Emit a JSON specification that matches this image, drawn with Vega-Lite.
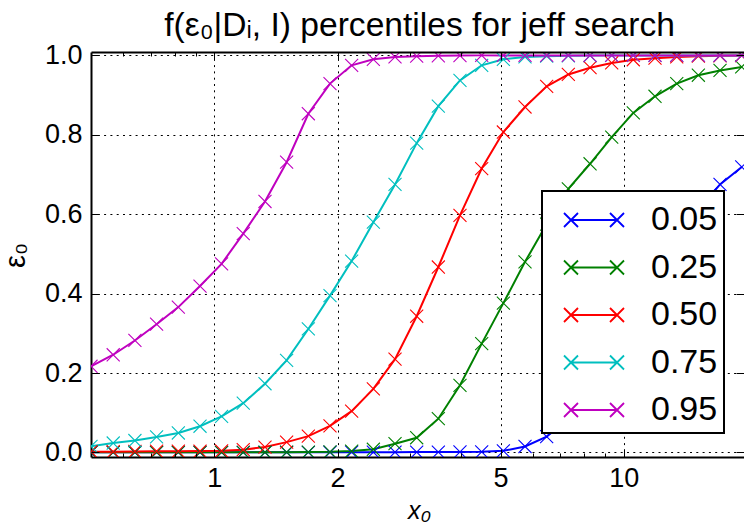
{
  "$schema": "https://vega.github.io/schema/vega-lite/v6.json",
  "width": 653,
  "height": 405,
  "autosize": {"type": "none"},
  "padding": {"left": 91, "top": 52, "right": 0, "bottom": 66},
  "background": "white",
  "config": {"view": {"stroke": null}, "font": "Liberation Sans"},
  "datasets": {
    "pct": [
      {"p":"0.05","x":0.5,"v":0.0002},{"p":"0.05","x":0.5665,"v":0.0002},{"p":"0.05","x":0.64,"v":0.0002},{"p":"0.05","x":0.723,"v":0.0002},{"p":"0.05","x":0.817,"v":0.0002},{"p":"0.05","x":0.923,"v":0.0002},{"p":"0.05","x":1.042,"v":0.0002},{"p":"0.05","x":1.177,"v":0.0002},{"p":"0.05","x":1.33,"v":0.0002},{"p":"0.05","x":1.502,"v":0.0003},{"p":"0.05","x":1.697,"v":0.0003},{"p":"0.05","x":1.917,"v":0.0004},{"p":"0.05","x":2.165,"v":0.0005},{"p":"0.05","x":2.446,"v":0.0006},{"p":"0.05","x":2.763,"v":0.0007},{"p":"0.05","x":3.121,"v":0.0008},{"p":"0.05","x":3.525,"v":0.001},{"p":"0.05","x":3.981,"v":0.0012},{"p":"0.05","x":4.498,"v":0.0015},{"p":"0.05","x":5.081,"v":0.004},{"p":"0.05","x":5.739,"v":0.015},{"p":"0.05","x":6.482,"v":0.04},{"p":"0.05","x":7.322,"v":0.085},{"p":"0.05","x":8.273,"v":0.15},{"p":"0.05","x":9.344,"v":0.245},{"p":"0.05","x":10.55,"v":0.35},{"p":"0.05","x":11.92,"v":0.45},{"p":"0.05","x":13.47,"v":0.54},{"p":"0.05","x":15.21,"v":0.61},{"p":"0.05","x":17.18,"v":0.675},{"p":"0.05","x":19.41,"v":0.719},
      {"p":"0.25","x":0.5,"v":0.0003},{"p":"0.25","x":0.5665,"v":0.0003},{"p":"0.25","x":0.64,"v":0.0003},{"p":"0.25","x":0.723,"v":0.0003},{"p":"0.25","x":0.817,"v":0.0003},{"p":"0.25","x":0.923,"v":0.0003},{"p":"0.25","x":1.042,"v":0.0003},{"p":"0.25","x":1.177,"v":0.0003},{"p":"0.25","x":1.33,"v":0.0004},{"p":"0.25","x":1.502,"v":0.0005},{"p":"0.25","x":1.697,"v":0.001},{"p":"0.25","x":1.917,"v":0.0015},{"p":"0.25","x":2.165,"v":0.0035},{"p":"0.25","x":2.446,"v":0.008},{"p":"0.25","x":2.763,"v":0.022},{"p":"0.25","x":3.121,"v":0.037},{"p":"0.25","x":3.525,"v":0.085},{"p":"0.25","x":3.981,"v":0.169},{"p":"0.25","x":4.498,"v":0.274},{"p":"0.25","x":5.081,"v":0.376},{"p":"0.25","x":5.739,"v":0.48},{"p":"0.25","x":6.482,"v":0.575},{"p":"0.25","x":7.322,"v":0.664},{"p":"0.25","x":8.273,"v":0.727},{"p":"0.25","x":9.344,"v":0.794},{"p":"0.25","x":10.55,"v":0.855},{"p":"0.25","x":11.92,"v":0.897},{"p":"0.25","x":13.47,"v":0.929},{"p":"0.25","x":15.21,"v":0.95},{"p":"0.25","x":17.18,"v":0.962},{"p":"0.25","x":19.41,"v":0.971},
      {"p":"0.50","x":0.5,"v":0.002},{"p":"0.50","x":0.5665,"v":0.002},{"p":"0.50","x":0.64,"v":0.0025},{"p":"0.50","x":0.723,"v":0.003},{"p":"0.50","x":0.817,"v":0.003},{"p":"0.50","x":0.923,"v":0.0035},{"p":"0.50","x":1.042,"v":0.004},{"p":"0.50","x":1.177,"v":0.007},{"p":"0.50","x":1.33,"v":0.0136},{"p":"0.50","x":1.502,"v":0.026},{"p":"0.50","x":1.697,"v":0.041},{"p":"0.50","x":1.917,"v":0.067},{"p":"0.50","x":2.165,"v":0.104},{"p":"0.50","x":2.446,"v":0.16},{"p":"0.50","x":2.763,"v":0.235},{"p":"0.50","x":3.121,"v":0.343},{"p":"0.50","x":3.525,"v":0.467},{"p":"0.50","x":3.981,"v":0.597},{"p":"0.50","x":4.498,"v":0.715},{"p":"0.50","x":5.081,"v":0.807},{"p":"0.50","x":5.739,"v":0.87},{"p":"0.50","x":6.482,"v":0.922},{"p":"0.50","x":7.322,"v":0.952},{"p":"0.50","x":8.273,"v":0.969},{"p":"0.50","x":9.344,"v":0.981},{"p":"0.50","x":10.55,"v":0.989},{"p":"0.50","x":11.92,"v":0.993},{"p":"0.50","x":13.47,"v":0.996},{"p":"0.50","x":15.21,"v":0.998},{"p":"0.50","x":17.18,"v":0.999},{"p":"0.50","x":19.41,"v":0.9995},
      {"p":"0.75","x":0.5,"v":0.0154},{"p":"0.75","x":0.5665,"v":0.0237},{"p":"0.75","x":0.64,"v":0.03},{"p":"0.75","x":0.723,"v":0.039},{"p":"0.75","x":0.817,"v":0.049},{"p":"0.75","x":0.923,"v":0.066},{"p":"0.75","x":1.042,"v":0.091},{"p":"0.75","x":1.177,"v":0.124},{"p":"0.75","x":1.33,"v":0.173},{"p":"0.75","x":1.502,"v":0.232},{"p":"0.75","x":1.697,"v":0.311},{"p":"0.75","x":1.917,"v":0.395},{"p":"0.75","x":2.165,"v":0.482},{"p":"0.75","x":2.446,"v":0.58},{"p":"0.75","x":2.763,"v":0.675},{"p":"0.75","x":3.121,"v":0.779},{"p":"0.75","x":3.525,"v":0.872},{"p":"0.75","x":3.981,"v":0.937},{"p":"0.75","x":4.498,"v":0.975},{"p":"0.75","x":5.081,"v":0.99},{"p":"0.75","x":5.739,"v":0.996},{"p":"0.75","x":6.482,"v":0.998},{"p":"0.75","x":7.322,"v":0.999},{"p":"0.75","x":8.273,"v":0.9995},{"p":"0.75","x":9.344,"v":1},{"p":"0.75","x":10.55,"v":1},{"p":"0.75","x":11.92,"v":1},{"p":"0.75","x":13.47,"v":1},{"p":"0.75","x":15.21,"v":1},{"p":"0.75","x":17.18,"v":1},{"p":"0.75","x":19.41,"v":1},
      {"p":"0.95","x":0.5,"v":0.217},{"p":"0.95","x":0.5665,"v":0.246},{"p":"0.95","x":0.64,"v":0.282},{"p":"0.95","x":0.723,"v":0.323},{"p":"0.95","x":0.817,"v":0.366},{"p":"0.95","x":0.923,"v":0.419},{"p":"0.95","x":1.042,"v":0.475},{"p":"0.95","x":1.177,"v":0.551},{"p":"0.95","x":1.33,"v":0.632},{"p":"0.95","x":1.502,"v":0.731},{"p":"0.95","x":1.697,"v":0.853},{"p":"0.95","x":1.917,"v":0.929},{"p":"0.95","x":2.165,"v":0.975},{"p":"0.95","x":2.446,"v":0.99},{"p":"0.95","x":2.763,"v":0.996},{"p":"0.95","x":3.121,"v":0.998},{"p":"0.95","x":3.525,"v":0.999},{"p":"0.95","x":3.981,"v":0.9995},{"p":"0.95","x":4.498,"v":1},{"p":"0.95","x":5.081,"v":1},{"p":"0.95","x":5.739,"v":1},{"p":"0.95","x":6.482,"v":1},{"p":"0.95","x":7.322,"v":1},{"p":"0.95","x":8.273,"v":1},{"p":"0.95","x":9.344,"v":1},{"p":"0.95","x":10.55,"v":1},{"p":"0.95","x":11.92,"v":1},{"p":"0.95","x":13.47,"v":1},{"p":"0.95","x":15.21,"v":1},{"p":"0.95","x":17.18,"v":1},{"p":"0.95","x":19.41,"v":1}
    ]
  },
  "data": {"name": "pct"},
  "layer": [
    {
      "mark": {"type": "line", "strokeWidth": 2, "clip": true},
      "encoding": {
        "x": {
          "field": "x", "type": "quantitative",
          "scale": {"type": "log", "domain": [0.5, 19.66], "nice": false},
          "axis": {
            "orient": "bottom", "values": [1, 2, 5, 10], "format": "~g",
            "ticks": false, "domain": true, "domainColor": "black", "domainWidth": 2,
            "grid": true, "gridColor": "black", "gridDash": [2, 4.3], "gridWidth": 1, "gridOpacity": 1,
            "labelFont": "Liberation Sans", "labelFontSize": 27, "labelColor": "black",
            "labelBaseline": "alphabetic", "labelPadding": 29, "labelFlush": false, "labelOverlap": false,
            "title": "x₀", "titleFont": "Liberation Sans", "titleFontSize": 25, "titleFontStyle": "italic",
            "titleFontWeight": "normal", "titleColor": "black", "titleX": 328, "titleY": 61,
            "titleBaseline": "alphabetic", "titleAlign": "center", "zindex": 0
          }
        },
        "y": {
          "field": "v", "type": "quantitative",
          "scale": {"domain": [-0.0115, 1.0085], "nice": false, "zero": false},
          "axis": {
            "orient": "left", "values": [0, 0.2, 0.4, 0.6, 0.8, 1], "format": ".1f",
            "ticks": false, "domain": true, "domainColor": "black", "domainWidth": 2,
            "grid": true, "gridColor": "black", "gridDash": [2, 4.3], "gridWidth": 1, "gridOpacity": 1,
            "labelFont": "Liberation Sans", "labelFontSize": 27, "labelColor": "black",
            "labelPadding": 9, "labelBaseline": "middle", "labelFlush": false, "labelOverlap": false,
            "title": "ε₀", "titleFont": "Liberation Sans", "titleFontSize": 29, "titleFontWeight": "normal",
            "titleColor": "black", "titleX": -67, "titleY": 203, "titleAngle": 270,
            "titleBaseline": "alphabetic", "titleAlign": "center", "zindex": 0
          }
        },
        "color": {
          "field": "p", "type": "nominal",
          "scale": {"domain": ["0.05", "0.25", "0.50", "0.75", "0.95"], "range": ["#0000ff", "#008000", "#ff0000", "#00bfbf", "#bf00bf"]},
          "legend": {
            "orient": "none", "legendX": 451, "legendY": 139, "title": null,
            "fillColor": "white", "strokeColor": "black", "padding": 6, "cornerRadius": 0,
            "rowPadding": 7.5, "labelFont": "Liberation Sans", "labelFontSize": 34, "labelColor": "black",
            "labelOffset": 34, "symbolOffset": 23,
            "symbolType": "M-1.045,0L1.045,0M-1.364,-0.318L-0.727,0.318M-1.364,0.318L-0.727,-0.318M0.727,-0.318L1.364,0.318M0.727,0.318L1.364,-0.318",
            "symbolSize": 1936, "symbolStrokeWidth": 1.8, "symbolOpacity": 1,
            "encode": {"legend": {"update": {"strokeWidth": {"value": 2}}}}
          }
        }
      }
    },
    {
      "mark": {"type": "point", "shape": "M-1,-1L1,1M-1,1L1,-1", "size": 170, "filled": false, "strokeWidth": 1.1, "opacity": 1, "clip": true},
      "encoding": {
        "x": {
          "field": "x", "type": "quantitative",
          "scale": {"type": "log", "domain": [0.5, 19.66], "nice": false},
          "axis": {
            "orient": "top", "values": [1, 2, 5, 10], "labels": false, "grid": false,
            "ticks": true, "tickSize": -8, "tickColor": "black", "tickWidth": 1,
            "domain": true, "domainColor": "black", "domainWidth": 2,
            "title": "f(ε₀|Dᵢ, I) percentiles for jeff search",
            "titleFont": "Liberation Sans", "titleFontSize": 33.6, "titleFontWeight": "normal", "titleColor": "black",
            "titleX": 328, "titleY": -17, "titleAlign": "center", "titleBaseline": "alphabetic", "titleAngle": 0,
            "zindex": 1
          }
        },
        "y": {
          "field": "v", "type": "quantitative",
          "scale": {"domain": [-0.0115, 1.0085], "nice": false, "zero": false},
          "axis": {
            "orient": "right", "values": [0, 0.2, 0.4, 0.6, 0.8, 1], "labels": false, "grid": false,
            "ticks": true, "tickSize": -8, "tickColor": "black", "tickWidth": 1,
            "domain": false, "title": null, "zindex": 1
          }
        },
        "color": {
          "field": "p", "type": "nominal",
          "scale": {"domain": ["0.05", "0.25", "0.50", "0.75", "0.95"], "range": ["#0000ff", "#008000", "#ff0000", "#00bfbf", "#bf00bf"]},
          "legend": {
            "orient": "none", "legendX": 451, "legendY": 139, "title": null,
            "fillColor": "white", "strokeColor": "black", "padding": 6, "cornerRadius": 0,
            "rowPadding": 7.5, "labelFont": "Liberation Sans", "labelFontSize": 34, "labelColor": "black",
            "labelOffset": 34, "symbolOffset": 23,
            "symbolType": "M-1.045,0L1.045,0M-1.364,-0.318L-0.727,0.318M-1.364,0.318L-0.727,-0.318M0.727,-0.318L1.364,0.318M0.727,0.318L1.364,-0.318",
            "symbolSize": 1936, "symbolStrokeWidth": 1.8, "symbolOpacity": 1,
            "encode": {"legend": {"update": {"strokeWidth": {"value": 2}}}}
          }
        }
      }
    },
    {
      "mark": {"type": "point", "opacity": 0},
      "encoding": {
        "x": {
          "field": "x", "type": "quantitative",
          "scale": {"type": "log", "domain": [0.5, 19.66], "nice": false},
          "axis": {
            "orient": "bottom", "values": [0.6, 0.7, 0.8, 0.9, 3, 4, 6, 7, 8, 9], "labels": false, "grid": false,
            "ticks": true, "tickSize": -4, "tickColor": "black", "tickWidth": 1,
            "domain": false, "title": null, "zindex": 1
          }
        },
        "y": {
          "field": "v", "type": "quantitative",
          "scale": {"domain": [-0.0115, 1.0085], "nice": false, "zero": false},
          "axis": {
            "orient": "left", "values": [0, 0.2, 0.4, 0.6, 0.8, 1], "labels": false, "grid": false,
            "ticks": true, "tickSize": -8, "tickColor": "black", "tickWidth": 1,
            "domain": false, "title": null, "zindex": 1
          }
        }
      }
    },
    {
      "mark": {"type": "point", "opacity": 0},
      "encoding": {
        "x": {
          "field": "x", "type": "quantitative",
          "scale": {"type": "log", "domain": [0.5, 19.66], "nice": false},
          "axis": {
            "orient": "bottom", "values": [1, 2, 5, 10], "labels": false, "grid": false,
            "ticks": true, "tickSize": -8, "tickColor": "black", "tickWidth": 1,
            "domain": false, "title": null, "zindex": 1
          }
        },
        "y": {
          "field": "v", "type": "quantitative",
          "scale": {"domain": [-0.0115, 1.0085], "nice": false, "zero": false},
          "axis": null
        }
      }
    },
    {
      "mark": {"type": "point", "opacity": 0},
      "encoding": {
        "x": {
          "field": "x", "type": "quantitative",
          "scale": {"type": "log", "domain": [0.5, 19.66], "nice": false},
          "axis": {
            "orient": "top", "values": [0.6, 0.7, 0.8, 0.9, 3, 4, 6, 7, 8, 9], "labels": false, "grid": false,
            "ticks": true, "tickSize": -4, "tickColor": "black", "tickWidth": 1,
            "domain": false, "title": null, "zindex": 1
          }
        },
        "y": {
          "field": "v", "type": "quantitative",
          "scale": {"domain": [-0.0115, 1.0085], "nice": false, "zero": false},
          "axis": null
        }
      }
    }
  ],
  "resolve": {"axis": {"x": "independent", "y": "independent"}}
}
